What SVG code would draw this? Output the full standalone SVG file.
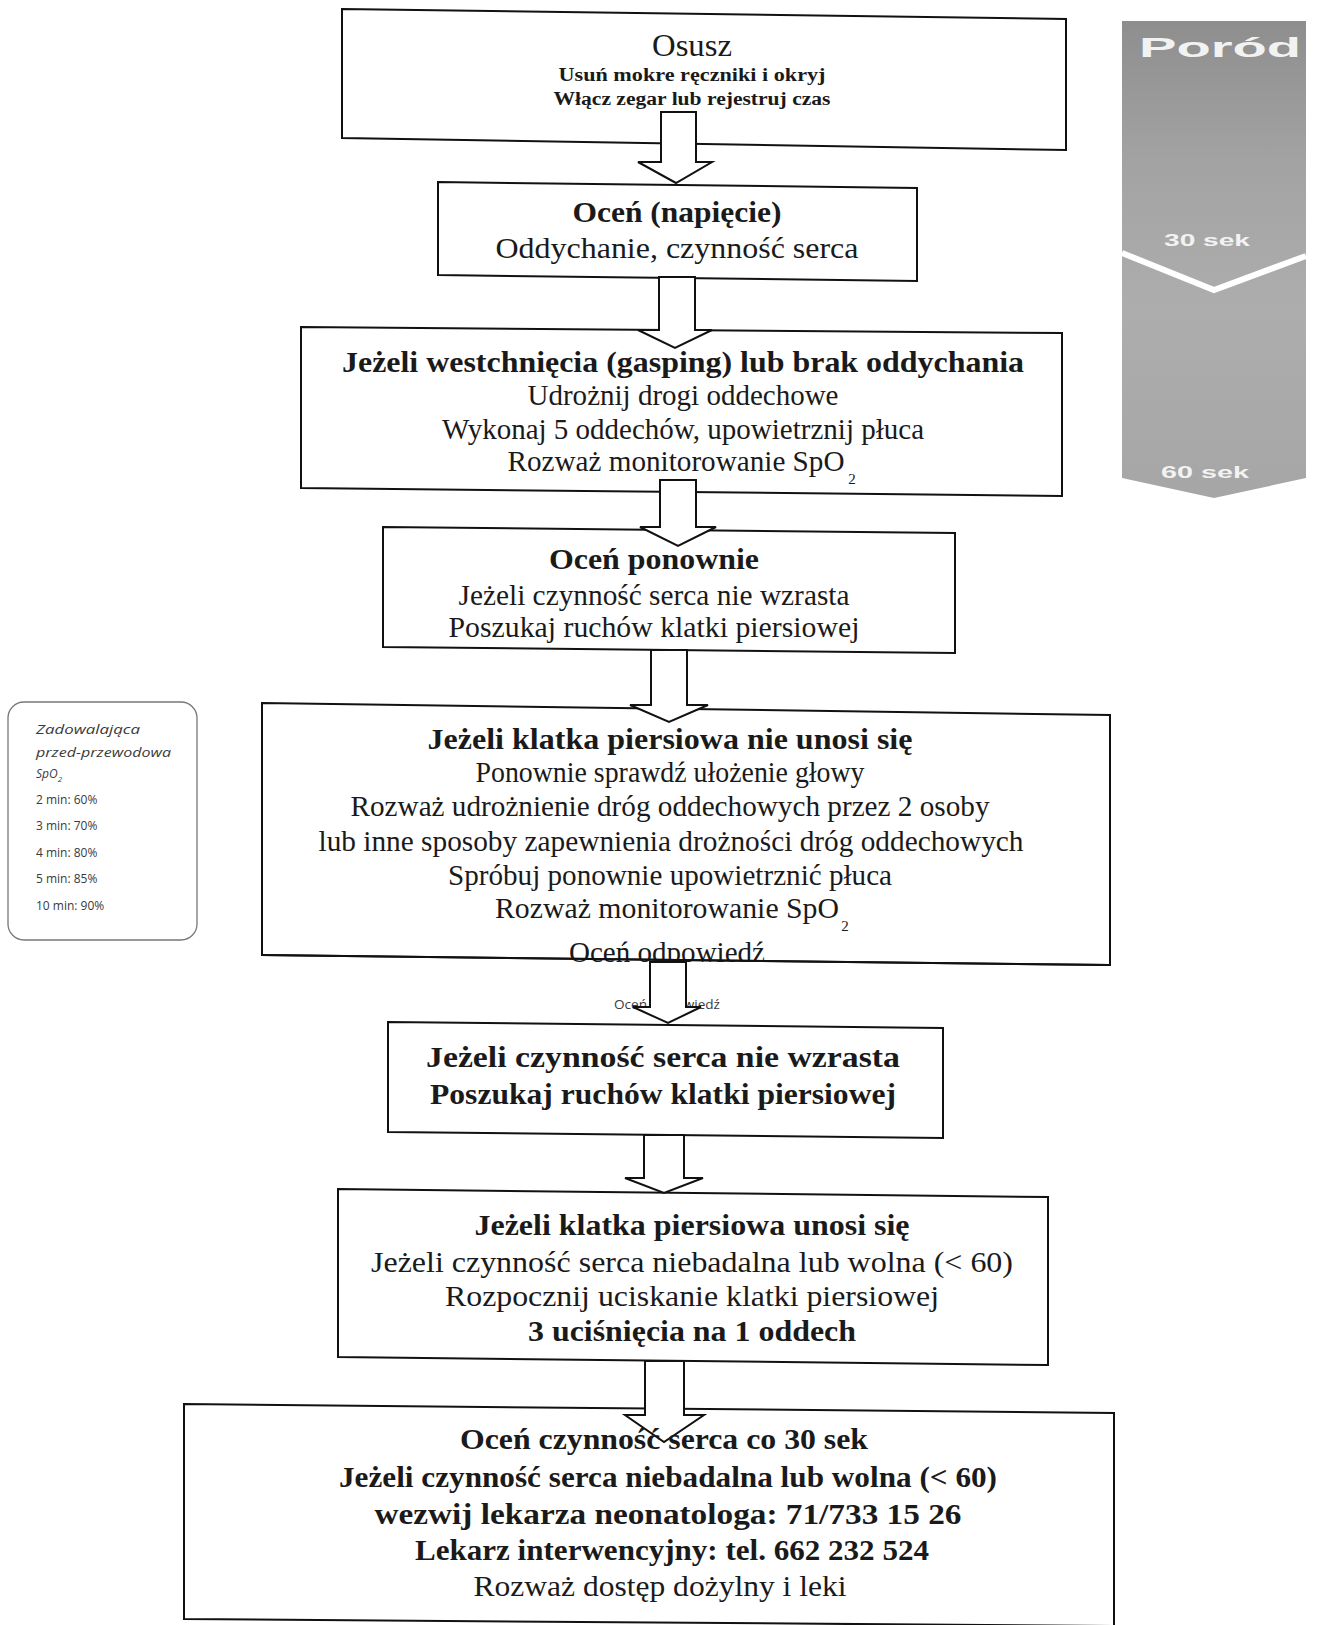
<svg xmlns="http://www.w3.org/2000/svg" width="1322" height="1625" viewBox="0 0 1322 1625">
<style>
.box{fill:#fff;stroke:#111;stroke-width:2}
.arr{fill:#fff;stroke:#111;stroke-width:2;stroke-linejoin:miter}
.t{font-family:"Liberation Serif","Times New Roman",serif;fill:#1a1a1a;text-anchor:middle}
.b{font-weight:bold}
.s{font-family:"Open Sans","Liberation Sans",sans-serif;fill:#3a3a3a;font-size:12px}
.bar{font-family:"Liberation Sans",Arial,sans-serif;font-weight:bold;fill:#f2f2f2;text-anchor:middle}
</style>
<rect width="1322" height="1625" fill="#fff"/>

<g id="node-osusz">
<polygon class="box" points="342,9 1066,19 1066,150 342,138"/>
<text class="t" x="692" y="56" font-size="32" textLength="80" lengthAdjust="spacingAndGlyphs">Osusz</text>
<text class="t b" x="692" y="81" font-size="18" textLength="267" lengthAdjust="spacingAndGlyphs">Usuń mokre ręczniki i okryj</text>
<text class="t b" x="692" y="105" font-size="18" textLength="277" lengthAdjust="spacingAndGlyphs">Włącz zegar  lub rejestruj czas</text>
</g>

<g id="node-ocen-napiecie">
<polygon class="box" points="438,182 917,188 917,281 438,275"/>
<text class="t b" x="677" y="222" font-size="30" textLength="209" lengthAdjust="spacingAndGlyphs">Oceń (napięcie)</text>
<text class="t" x="677" y="258" font-size="30" textLength="363" lengthAdjust="spacingAndGlyphs">Oddychanie, czynność serca</text>
</g>

<g id="node-gasping">
<polygon class="box" points="301,327 1062,333 1062,496 301,488"/>
<text class="t b" x="683" y="372" font-size="30" textLength="682" lengthAdjust="spacingAndGlyphs">Jeżeli westchnięcia (gasping) lub brak oddychania</text>
<text class="t" x="683" y="405" font-size="29" textLength="311" lengthAdjust="spacingAndGlyphs">Udrożnij drogi oddechowe</text>
<text class="t" x="683" y="439" font-size="29" textLength="482" lengthAdjust="spacingAndGlyphs">Wykonaj 5 oddechów, upowietrznij płuca</text>
<text class="t" x="676" y="471" font-size="29" textLength="337" lengthAdjust="spacingAndGlyphs">Rozważ monitorowanie SpO</text>
<text class="t" x="852" y="484" font-size="15">2</text>
</g>

<g id="node-ocen-ponownie">
<polygon class="box" points="383,527 955,533 955,653 383,647"/>
<text class="t b" x="654" y="569" font-size="30" textLength="210" lengthAdjust="spacingAndGlyphs">Oceń ponownie</text>
<text class="t" x="654" y="605" font-size="29" textLength="391" lengthAdjust="spacingAndGlyphs">Jeżeli czynność serca nie wzrasta</text>
<text class="t" x="654" y="637" font-size="29" textLength="411" lengthAdjust="spacingAndGlyphs">Poszukaj ruchów klatki piersiowej</text>
</g>

<g id="node-spo2-table">
<rect x="8" y="702" width="189" height="238" rx="16" fill="#fff" stroke="#777" stroke-width="1.3"/>
<text class="s" x="36" y="734" font-size="13" font-style="italic" textLength="104" lengthAdjust="spacingAndGlyphs">Zadowalająca</text>
<text class="s" x="36" y="757" font-size="13" font-style="italic" textLength="135" lengthAdjust="spacingAndGlyphs">przed-przewodowa</text>
<text class="s" x="36" y="778" font-size="13" font-style="italic">SpO<tspan font-size="8" dy="4">2</tspan></text>
<text class="s" x="36" y="804" font-size="11.5">2 min: 60%</text>
<text class="s" x="36" y="830" font-size="11.5">3 min: 70%</text>
<text class="s" x="36" y="857" font-size="11.5">4 min: 80%</text>
<text class="s" x="36" y="883" font-size="11.5">5 min: 85%</text>
<text class="s" x="36" y="910" font-size="11.5">10 min: 90%</text>
</g>

<g id="node-klatka-nie-unosi">
<polygon class="box" points="262,703 1110,715 1110,965 262,955"/>
<text class="t b" x="670" y="749" font-size="30" textLength="485" lengthAdjust="spacingAndGlyphs">Jeżeli klatka piersiowa nie unosi się</text>
<text class="t" x="670" y="782" font-size="29" textLength="389" lengthAdjust="spacingAndGlyphs">Ponownie sprawdź ułożenie głowy</text>
<text class="t" x="670" y="816" font-size="29" textLength="639" lengthAdjust="spacingAndGlyphs">Rozważ udrożnienie dróg oddechowych przez 2 osoby</text>
<text class="t" x="671" y="851" font-size="29" textLength="705" lengthAdjust="spacingAndGlyphs">lub inne sposoby zapewnienia drożności dróg oddechowych</text>
<text class="t" x="670" y="885" font-size="29" textLength="444" lengthAdjust="spacingAndGlyphs">Spróbuj ponownie upowietrznić płuca</text>
<text class="t" x="667" y="918" font-size="29" textLength="344" lengthAdjust="spacingAndGlyphs">Rozważ monitorowanie SpO</text>
<text class="t" x="845" y="931" font-size="15">2</text>
<text class="t" x="667" y="962" font-size="29" textLength="196" lengthAdjust="spacingAndGlyphs">Oceń odpowiedź</text>
<line x1="262" y1="955" x2="1110" y2="965" stroke="#111" stroke-width="2"/>
</g>

<g id="label-ocen-odpowiedz-small">
<text class="s" x="667" y="1009" font-size="11" text-anchor="middle" fill="#444" textLength="106" lengthAdjust="spacingAndGlyphs">Oceń odpowiedź</text>
</g>

<g id="node-czynnosc-nie-wzrasta">
<polygon class="box" points="388,1022 943,1028 943,1138 388,1132"/>
<text class="t b" x="663" y="1067" font-size="30" textLength="474" lengthAdjust="spacingAndGlyphs">Jeżeli czynność serca nie wzrasta</text>
<text class="t b" x="663" y="1104" font-size="30" textLength="466" lengthAdjust="spacingAndGlyphs">Poszukaj ruchów klatki piersiowej</text>
</g>

<g id="node-klatka-unosi">
<polygon class="box" points="338,1189 1048,1197 1048,1365 338,1357"/>
<text class="t b" x="692" y="1235" font-size="30" textLength="435" lengthAdjust="spacingAndGlyphs">Jeżeli klatka piersiowa unosi się</text>
<text class="t" x="692" y="1272" font-size="29" textLength="642" lengthAdjust="spacingAndGlyphs">Jeżeli czynność serca niebadalna lub wolna (&lt; 60)</text>
<text class="t" x="692" y="1306" font-size="29" textLength="494" lengthAdjust="spacingAndGlyphs">Rozpocznij uciskanie klatki piersiowej</text>
<text class="t b" x="692" y="1341" font-size="30" textLength="328" lengthAdjust="spacingAndGlyphs">3 uciśnięcia na 1 oddech</text>
</g>

<g id="node-ocen-co-30">
<polygon class="box" points="184,1404 1114,1413 1114,1626 184,1619"/>
</g>

<g id="connectors">
<path class="arr" d="M661,112 H696 V162 H712 L676,183 L638,162 H661 Z"/>
<path class="arr" d="M659,277 H695 V330 H712 L675,348 L638,330 H659 Z"/>
<path class="arr" d="M660,480 H696 V527 H716 L678,546 L640,527 H660 Z"/>
<path class="arr" d="M651,650 H687 V705 H708 L669,722 L630,705 H651 Z"/>
<path class="arr" d="M650,962 H686 V1007 H701 L668,1023 L633,1007 H650 Z"/>
<path class="arr" d="M644,1135 H684 V1178 H703 L664,1193 L625,1178 H644 Z"/>
<path class="arr" d="M645,1361 H684 V1415 H704 L664,1442 L625,1415 H645 Z"/>
</g>

<g id="node-ocen-co-30-text">
<text class="t b" x="664" y="1449" font-size="30" textLength="408" lengthAdjust="spacingAndGlyphs">Oceń czynność serca co 30 sek</text>
<text class="t b" x="668" y="1487" font-size="30" textLength="658" lengthAdjust="spacingAndGlyphs">Jeżeli czynność serca niebadalna lub wolna (&lt; 60)</text>
<text class="t b" x="668" y="1524" font-size="30" textLength="587" lengthAdjust="spacingAndGlyphs">wezwij lekarza neonatologa: 71/733 15 26</text>
<text class="t b" x="672" y="1560" font-size="30" textLength="514" lengthAdjust="spacingAndGlyphs">Lekarz interwencyjny: tel. 662 232 524</text>
<text class="t" x="660" y="1596" font-size="29" textLength="373" lengthAdjust="spacingAndGlyphs">Rozważ dostęp dożylny i leki</text>
</g>

<g id="timeline-bar">
<defs>
<linearGradient id="g1" x1="0" y1="0" x2="0" y2="1">
<stop offset="0" stop-color="#8e8e8e"/>
<stop offset="0.3" stop-color="#a3a3a3"/>
<stop offset="0.6" stop-color="#adadad"/>
<stop offset="1" stop-color="#a6a6a6"/>
</linearGradient>
</defs>
<polygon points="1122,21 1306,21 1306,478 1214,498 1122,478" fill="url(#g1)"/>
<polyline points="1122,253 1214,290 1306,256" fill="none" stroke="#fff" stroke-width="6"/>
<text class="bar" x="1220" y="57" font-size="27" textLength="162" lengthAdjust="spacingAndGlyphs">Poród</text>
<text class="bar" x="1207" y="246" font-size="17" fill="#e6e6e6" textLength="86" lengthAdjust="spacingAndGlyphs">30 sek</text>
<text class="bar" x="1205" y="478" font-size="17" fill="#e6e6e6" textLength="88" lengthAdjust="spacingAndGlyphs">60 sek</text>
</g>
</svg>
